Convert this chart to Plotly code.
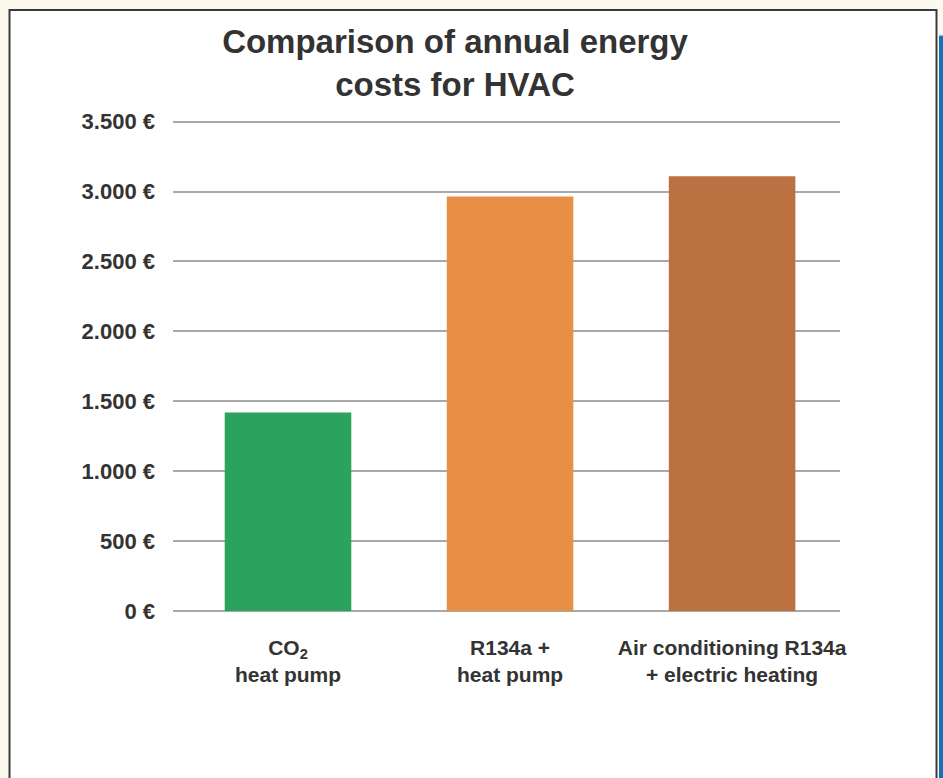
import plotly.graph_objects as go

# Annual HVAC energy cost per system (EUR)
categories = ["CO<sub>2</sub><br>heat pump",
              "R134a +<br>heat pump",
              "Air conditioning R134a<br>+ electric heating"]
costs = [1420, 2965, 3110]
bar_colors = ["#2ca25f", "#e68f45", "#bb7141"]

tick_values = [0, 500, 1000, 1500, 2000, 2500, 3000, 3500]
tick_labels = ["0 €", "500 €", "1.000 €", "1.500 €", "2.000 €", "2.500 €", "3.000 €", "3.500 €"]

W, H = 943, 778
L, R, B = 173, 840, 611          # plot area edges in pixels
Y_TOP = 3512                     # small headroom so the top gridline is drawn
T = B - 489 * Y_TOP / 3500       # 489 px per 3500 EUR


def px_x(p):
    return (p - L) / (R - L)


def px_y(p):
    return (B - p) / (B - T)


font_family = "Liberation Sans, Arial, sans-serif"

fig = go.Figure(go.Bar(
    x=categories,
    y=costs,
    marker=dict(color=bar_colors, line=dict(width=0)),
    width=0.57,
    hoverinfo="skip",
))

shapes = [
    # white panel with dark frame
    dict(type="rect", xref="paper", yref="paper", layer="below",
         x0=px_x(9.5), x1=px_x(936.5), y0=px_y(800), y1=px_y(10.5),
         fillcolor="white", line=dict(color="#3a3a3a", width=2)),
    # blue side strip
    dict(type="rect", xref="paper", yref="paper", layer="below",
         x0=px_x(939), x1=px_x(950), y0=px_y(800), y1=px_y(36),
         fillcolor="#1670b8", line=dict(width=0)),
    dict(type="line", xref="paper", yref="paper", layer="below",
         x0=px_x(939), x1=px_x(950), y0=px_y(35.5), y1=px_y(35.5),
         line=dict(color="#a9d3ef", width=1)),
]

fig.update_layout(
    width=W, height=H,
    margin=dict(l=L, r=W - R, t=T, b=H - B, pad=0),
    paper_bgcolor="#fdf9ef",
    plot_bgcolor="rgba(0,0,0,0)",
    showlegend=False,
    shapes=shapes,
    font=dict(family=font_family, color="#333333", size=20, weight="bold"),
    title=dict(
        text="Comparison of annual energy<br>costs for HVAC",
        x=455 / W, xanchor="center",
        y=1 - 53 / H, yanchor="middle",
        font=dict(family=font_family, size=33, color="#333333", weight="bold"),
    ),
    yaxis=dict(
        range=[0, Y_TOP],
        tickvals=tick_values,
        ticktext=tick_labels,
        showgrid=True, gridcolor="#a8a8a8", gridwidth=2,
        zeroline=True, zerolinecolor="#a8a8a8", zerolinewidth=2,
        showline=False, ticks="",
        ticklabelstandoff=17,
        tickfont=dict(size=22, color="#333333", weight="bold"),
    ),
    xaxis=dict(
        range=[-0.518, 2.486],
        showgrid=False, showline=False, ticks="", zeroline=False,
        ticklabelstandoff=22,
        tickfont=dict(size=21, color="#333333", weight="bold"),
    ),
)

fig.write_html("out.html")
